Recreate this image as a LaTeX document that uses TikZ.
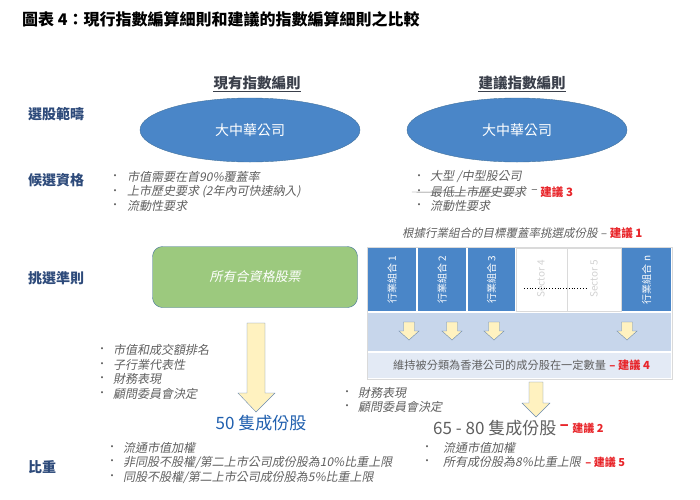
\documentclass[tikz,border=0pt]{standalone}
\usepackage{fontspec}
\usepackage{tikz}
\usetikzlibrary{shapes.geometric}
\setmainfont{Noto Sans CJK TC}
\newfontfamily\cjkslant[FakeSlant=0.2]{Noto Sans CJK TC}
\definecolor{hkblue}{HTML}{4A86C8}
\definecolor{hkedge}{HTML}{41719C}
\definecolor{hkgreen}{HTML}{9CC97E}
\definecolor{hkyellow}{HTML}{FFF2C0}
\definecolor{arrowedge}{HTML}{6A8AB0}
\definecolor{bandblue}{HTML}{C7D6EB}
\definecolor{bandpale}{HTML}{E3EAF5}
\definecolor{tableedge}{HTML}{DADADA}
\definecolor{txtgray}{HTML}{5F5F5F}
\definecolor{labnavy}{HTML}{2D4A7A}
\definecolor{hdrgray}{HTML}{3A3F4A}
\definecolor{hkred}{HTML}{E8262B}
\definecolor{fiftyblue}{HTML}{1F5FAE}
\definecolor{sectgray}{HTML}{D2D2D2}
\begin{document}
\begin{tikzpicture}[x=1pt, y=-1pt,
  rowlabel/.style={anchor=west, inner sep=0pt, text=labnavy, font=\fontsize{14}{16}\selectfont\bfseries},
  hdr/.style={inner sep=0pt, text=hdrgray, font=\fontsize{14.5}{16}\selectfont\bfseries},
  blob/.style={ellipse, draw=hkedge, fill=hkblue, minimum width=220pt, minimum height=64pt,
    text=white, font=\fontsize{14}{16}\selectfont},
  bul/.style={inner sep=0pt, text=txtgray, font=\fontsize{10}{11}\selectfont},
  item/.style={anchor=west, inner sep=0pt, text=txtgray, font=\fontsize{12}{14}\selectfont\cjkslant},
  rec/.style={anchor=west, inner sep=0pt, text=hkred, font=\fontsize{11.5}{13}\selectfont\bfseries},
  sect/.style={rotate=90, inner sep=0pt, font=\fontsize{10}{12}\selectfont},
  blockarrow/.style={draw=arrowedge, fill=hkyellow, line join=miter}]
\useasboundingbox (0,0) rectangle (700,499);
% Title
\node[anchor=west, inner sep=0pt, font=\fontsize{16}{18}\selectfont\bfseries] (title) at (22,19)
  {圖表 4：現行指數編算細則和建議的指數編算細則之比較};
% Column headers
\node[hdr] (hdrL) at (257,83) {現有指數編則};
\draw[hdrgray, thin] ([yshift=-1.5pt]hdrL.south west) -- ([yshift=-1.5pt]hdrL.south east);
\node[hdr] (hdrR) at (522,83) {建議指數編則};
\draw[hdrgray, thin] ([yshift=-1.5pt]hdrR.south west) -- ([yshift=-1.5pt]hdrR.south east);
% Row labels
\node[rowlabel] (lab1) at (28,114) {選股範疇};
\node[rowlabel] (lab2) at (28,180) {候選資格};
\node[rowlabel] (lab3) at (28,278) {挑選準則};
\node[rowlabel] (lab4) at (28,467) {比重};
% Universe
\node[blob] (uniL) at (250,130) {大中華公司};
\node[blob] (uniR) at (517,130) {大中華公司};
% Eligibility
\foreach \y/\t [count=\i] in {177/{市值需要在首90\%覆蓋率}, 192/{上市歷史要求 (2年內可快速納入)}, 206/{流動性要求}} {
  \node[bul] (bL\i) at (115,\y) {•};
  \node[item] (iL\i) at (127,\y) {\t};
}
\foreach \y/\t [count=\i] in {177/{大型 /中型股公司}, 192/{最低上市歷史要求}, 206/{流動性要求}} {
  \node[bul] (bR\i) at (419,\y) {•};
  \node[item] (iR\i) at (430,\y) {\t};
}
\draw[txtgray] ([xshift=-2pt]bR2.west) -- ([yshift=-1pt]iR2.east);
\node[item] (dash3) at ([xshift=4pt]iR2.east) {–};
\node[rec] (rec3) at ([xshift=3pt]dash3.east) {建議 3};
% Selection: current
\node[draw=hkedge, fill=hkgreen, rounded corners=10pt, minimum width=205pt, minimum height=61pt,
  text=white, font=\fontsize{13}{15}\selectfont\cjkslant] (allstk) at (255,277) {所有合資格股票};
\draw[blockarrow] (247,323) -- (265,323) -- (265,393) -- (275,393) -- (256,412) -- (238,393) -- (247,393) -- cycle;
\foreach \y/\t [count=\i] in {350/{市值和成交額排名}, 365/{子行業代表性}, 379/{財務表現}, 394/{顧問委員會決定}} {
  \node[bul] (bS\i) at (102,\y) {•};
  \node[item] (iS\i) at (113,\y) {\t};
}
\node[inner sep=0pt, text=fiftyblue, font=\fontsize{17}{19}\selectfont] (fifty) at (261,423) {50 隻成份股};
% Selection: proposed
\node[item, font=\fontsize{11.5}{13}\selectfont\cjkslant] (sectnote) at (402,233) {根據行業組合的目標覆蓋率挑選成份股 –};
\node[rec] (rec1) at ([xshift=3pt]sectnote.east) {建議 1};
\draw[tableedge] (367,247) rectangle (672,379);
\foreach \a/\b/\t [count=\i] in {367/417/1, 417/467/2, 467/516/3, 621/672/n} {
  \fill[hkblue] (\a+0.8,248) rectangle (\b-0.8,311);
  \node[sect, text=white] (sec\i) at ({(\a+\b)/2},280) {行業組合 \t};
}
\draw[tableedge] (516,248) rectangle (567,311);
\draw[tableedge] (567,248) rectangle (621,311);
\node[sect, text=sectgray] (sec4) at (541,279) {Sector 4};
\node[sect, text=sectgray] (sec5) at (594,279) {Sector 5};
\draw[black, thick, dotted] (524,288) -- (587,288);
\fill[bandblue] (368,313) rectangle (671,351);
\fill[bandpale] (368,353) rectangle (671,378);
\foreach \c in {409,452,494,627}
  \draw[blockarrow] (\c-5.5,322) -- (\c+5.5,322) -- (\c+5.5,331) -- (\c+10,331) -- (\c,340) -- (\c-10,331) -- (\c-5.5,331) -- cycle;
\node[anchor=west, inner sep=0pt, text=txtgray, font=\fontsize{11.2}{13}\selectfont] (keep) at (393,365)
  {維持被分類為香港公司的成分股在一定數量};
\node[rec, font=\fontsize{11.2}{13}\selectfont\bfseries] (rec4) at ([xshift=3pt]keep.east) {– 建議 4};
\draw[blockarrow] (529,382) -- (543,382) -- (543,403) -- (550,403) -- (536,417) -- (522,403) -- (529,403) -- cycle;
\foreach \y/\t [count=\i] in {393/{財務表現}, 407/{顧問委員會決定}} {
  \node[bul] (bM\i) at (347,\y) {•};
  \node[item] (iM\i) at (358,\y) {\t};
}
\node[anchor=west, inner sep=0pt, text=txtgray, font=\fontsize{17}{19}\selectfont] (range) at (433,428) {65 - 80 隻成份股};
\node[anchor=west, inner sep=0pt, text=hkred, font=\fontsize{17}{19}\selectfont\bfseries] (dash2) at ([xshift=3pt]range.east) {–};
\node[rec, font=\fontsize{11}{13}\selectfont\bfseries] (rec2) at ([xshift=3pt]dash2.east) {建議 2};
% Weighting
\foreach \y/\t [count=\i] in {448/{流通市值加權}, 462/{非同股不股權/第二上市公司成份股為10\%比重上限}, 477/{同股不股權/第二上市公司成份股為5\%比重上限}} {
  \node[bul] (bW\i) at (112,\y) {•};
  \node[item] (iW\i) at (123,\y) {\t};
}
\foreach \y/\t [count=\i] in {448/{流通市值加權}, 462/{所有成份股為8\%比重上限}} {
  \node[bul] (bV\i) at (427,\y) {•};
  \node[item] (iV\i) at (443,\y) {\t};
}
\node[rec, font=\fontsize{11}{13}\selectfont\bfseries] (rec5) at ([xshift=4pt]iV2.east) {– 建議 5};
\end{tikzpicture}
\end{document}
